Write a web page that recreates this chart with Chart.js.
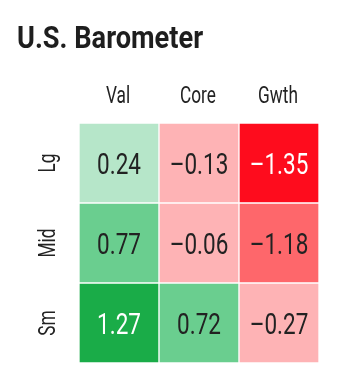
<!DOCTYPE html>
<html><head><meta charset="utf-8">
<script src="https://cdn.jsdelivr.net/npm/chart.js@4"></script>
<style>html,body{margin:0;padding:0;background:#fff}#wrap{width:356px;height:384px}</style>
</head><body><div id="wrap"><canvas id="c" width="356" height="384"></canvas></div>
<script>
const title = 'U.S. Barometer';
const columns = ['Val', 'Core', 'Gwth'];
const rows = ['Lg', 'Mid', 'Sm'];
const lgValues = [0.24, -0.13, -1.35];
const midValues = [0.77, -0.06, -1.18];
const smValues = [1.27, 0.72, -0.27];
const lgColors = ['#b6e6c9', '#feb3b5', '#fe0c1d'];
const midColors = ['#6ace8f', '#feb3b5', '#fe676b'];
const smColors = ['#1aac48', '#6ace8f', '#feb3b5'];
const lgText = ['#222', '#222', '#fff'];
const midText = ['#222', '#222', '#222'];
const smText = ['#fff', '#222', '#222'];

const FONT = 'Roboto, "Liberation Sans", sans-serif';
const SX = 0.75;       // horizontal condensing of the regular font
const SX_TITLE = 0.85; // horizontal condensing of the bold title
const fmt = v => (v < 0 ? '\u2013' : '') + Math.abs(v).toFixed(2);

// stacked from bottom: Sm, Mid, Lg
const rowData = [
  {label: rows[2], values: smValues, colors: smColors, text: smText},
  {label: rows[1], values: midValues, colors: midColors, text: midText},
  {label: rows[0], values: lgValues, colors: lgColors, text: lgText}
];

function condensedText(ctx, text, x, y, rot, sx) {
  ctx.save();
  ctx.translate(x, y);
  if (rot) ctx.rotate(rot);
  ctx.scale(sx || SX, 1);
  ctx.fillText(text, 0, 0);
  ctx.restore();
}

const labelPlugin = {
  id: 'labels',
  afterDatasetsDraw(chart) {
    const ctx = chart.ctx;
    const xs = chart.scales.x, ys = chart.scales.y;
    ctx.save();
    ctx.textAlign = 'center';
    ctx.textBaseline = 'alphabetic';
    chart.data.datasets.forEach((ds, di) => {
      const meta = chart.getDatasetMeta(di);
      meta.data.forEach((bar, i) => {
        const p = bar.getProps(['x', 'y', 'base'], true);
        ctx.fillStyle = ds.textColors[i];
        ctx.font = '30px ' + FONT;
        condensedText(ctx, fmt(ds.cellValues[i]), p.x, (p.y + p.base) / 2 + 11);
      });
    });
    // column labels
    ctx.fillStyle = '#222';
    ctx.font = '23px ' + FONT;
    columns.forEach((c, i) => {
      condensedText(ctx, c, xs.getPixelForValue(i) - 1, 103);
    });
    // row labels (rotated)
    rowData.forEach((r, i) => {
      const y = ys.getPixelForValue(i + 0.5);
      condensedText(ctx, r.label, 55, y, -Math.PI / 2);
    });
    // title
    ctx.textAlign = 'left';
    ctx.font = 'bold 32px ' + FONT;
    ctx.fillStyle = '#1e1e1e';
    condensedText(ctx, title, 17, 48, 0, SX_TITLE);
    ctx.restore();
  }
};

new Chart(document.getElementById('c'), {
  type: 'bar',
  data: {
    labels: columns,
    datasets: rowData.map(r => ({
      label: r.label,
      data: r.values.map(() => 1),
      cellValues: r.values,
      textColors: r.text,
      backgroundColor: r.colors,
      borderColor: '#ffffff',
      borderWidth: 1,
      borderSkipped: false,
      categoryPercentage: 1,
      barPercentage: 1
    }))
  },
  options: {
    responsive: false,
    animation: false,
    layout: {padding: {left: 79, right: 37, top: 123, bottom: 21}},
    plugins: {legend: {display: false}, tooltip: {enabled: false}, title: {display: false}},
    scales: {
      x: {display: false, stacked: true, offset: true, grid: {display: false}},
      y: {display: false, stacked: true, min: 0, max: 3}
    }
  },
  plugins: [labelPlugin]
});
</script></body></html>
